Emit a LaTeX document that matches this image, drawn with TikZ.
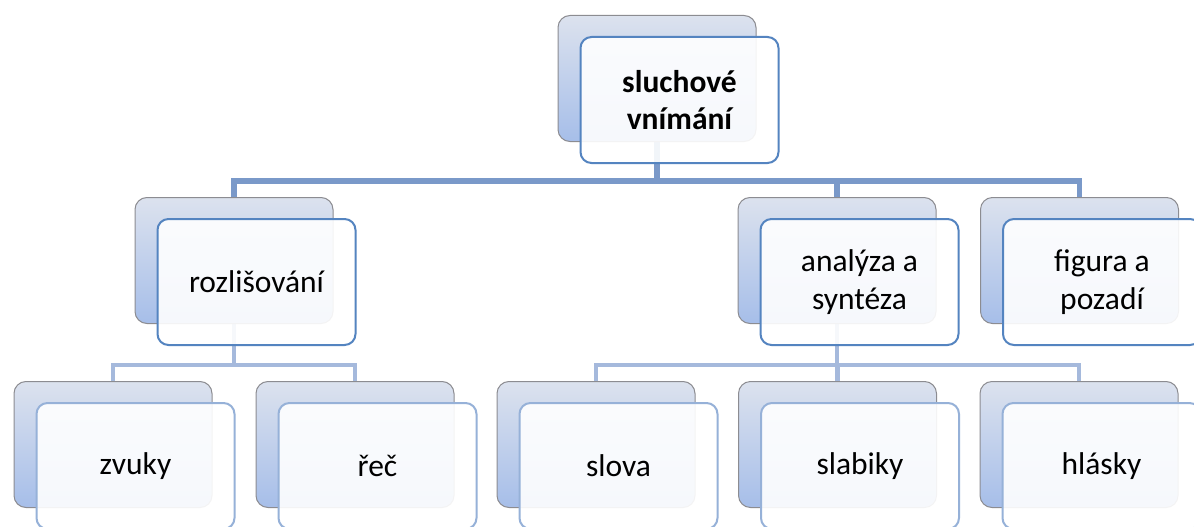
\documentclass[tikz,border=0pt]{standalone}
\usepackage{fontspec}
\setmainfont{Carlito}
\definecolor{backtop}{RGB}{220,226,238}
\definecolor{backbot}{RGB}{166,190,233}
\definecolor{backedge}{RGB}{140,140,145}
\definecolor{edgedark}{RGB}{84,132,192}
\definecolor{edgelight}{RGB}{150,177,216}
\definecolor{barone}{RGB}{122,153,201}
\definecolor{bartwo}{RGB}{165,185,220}
\tikzset{
  backbox/.style={rounded corners=12pt, minimum width=198pt, minimum height=126pt,
    inner sep=0pt, draw=backedge, line width=1pt, top color=backtop, bottom color=backbot},
  frontbox/.style={rounded corners=11pt, minimum width=198pt, minimum height=126pt,
    inner sep=0pt, draw=#1, line width=2pt, fill=white, fill opacity=0.9, text opacity=1,
    text=black, align=center, font=\fontsize{31.5}{37.5}\selectfont},
  barmain/.style={draw=barone, line width=5.5pt},
  barsub/.style={draw=bartwo, line width=4.5pt},
}
\begin{document}
\begin{tikzpicture}[x=1pt,y=-1pt]
\useasboundingbox (0,0) rectangle (1194,527);
\clip (0,0) rectangle (1194,527);
\fill[white] (0,0) rectangle (1194,527);

% back layers (positions of the cards)
\coordinate (ptop) at (657,78.5);
\coordinate (proz) at (234,260.5);
\coordinate (pana) at (837,260.5);
\coordinate (pfig) at (1079.5,260.5);
\coordinate (pzvu) at (113,444.5);
\coordinate (prec) at (355,444.5);
\coordinate (pslo) at (596,444.5);
\coordinate (psla) at (837.5,444.5);
\coordinate (phla) at (1079,444.5);

% junction heights of the two bar levels
\coordinate (jone) at (0,181);
\coordinate (jtwo) at (0,365);

% connectors, drawn first so the cards sit on top
\draw[barmain] (ptop) -- (ptop |- jone);
\draw[barmain] (proz) -- (proz |- jone) -- (pfig |- jone) -- (pfig);
\draw[barmain] (pana) -- (pana |- jone);
\draw[barsub] (proz) -- (proz |- jtwo);
\draw[barsub] (pzvu) -- (pzvu |- jtwo) -- (prec |- jtwo) -- (prec);
\draw[barsub] (pana) -- (pana |- jtwo);
\draw[barsub] (pslo) -- (pslo |- jtwo) -- (phla |- jtwo) -- (phla);
\draw[barsub] (psla) -- (psla |- jtwo);

% cards: shaded back card plus a translucent front card with the label
\foreach \n/\e/\t in {top/edgedark/{\bfseries sluchové\\\bfseries vnímání},
                      roz/edgedark/rozlišování,
                      ana/edgedark/{analýza a\\syntéza},
                      fig/edgedark/{figura a\\pozadí},
                      zvu/edgelight/zvuky,
                      rec/edgelight/řeč,
                      slo/edgelight/slova,
                      sla/edgelight/slabiky,
                      hla/edgelight/hlásky}{
  \node[backbox] (b\n) at (p\n) {};
  \node[frontbox=\e] (f\n) at ([xshift=22.5pt,yshift=-21.5pt]b\n.center) {\t};
}
\end{tikzpicture}
\end{document}
